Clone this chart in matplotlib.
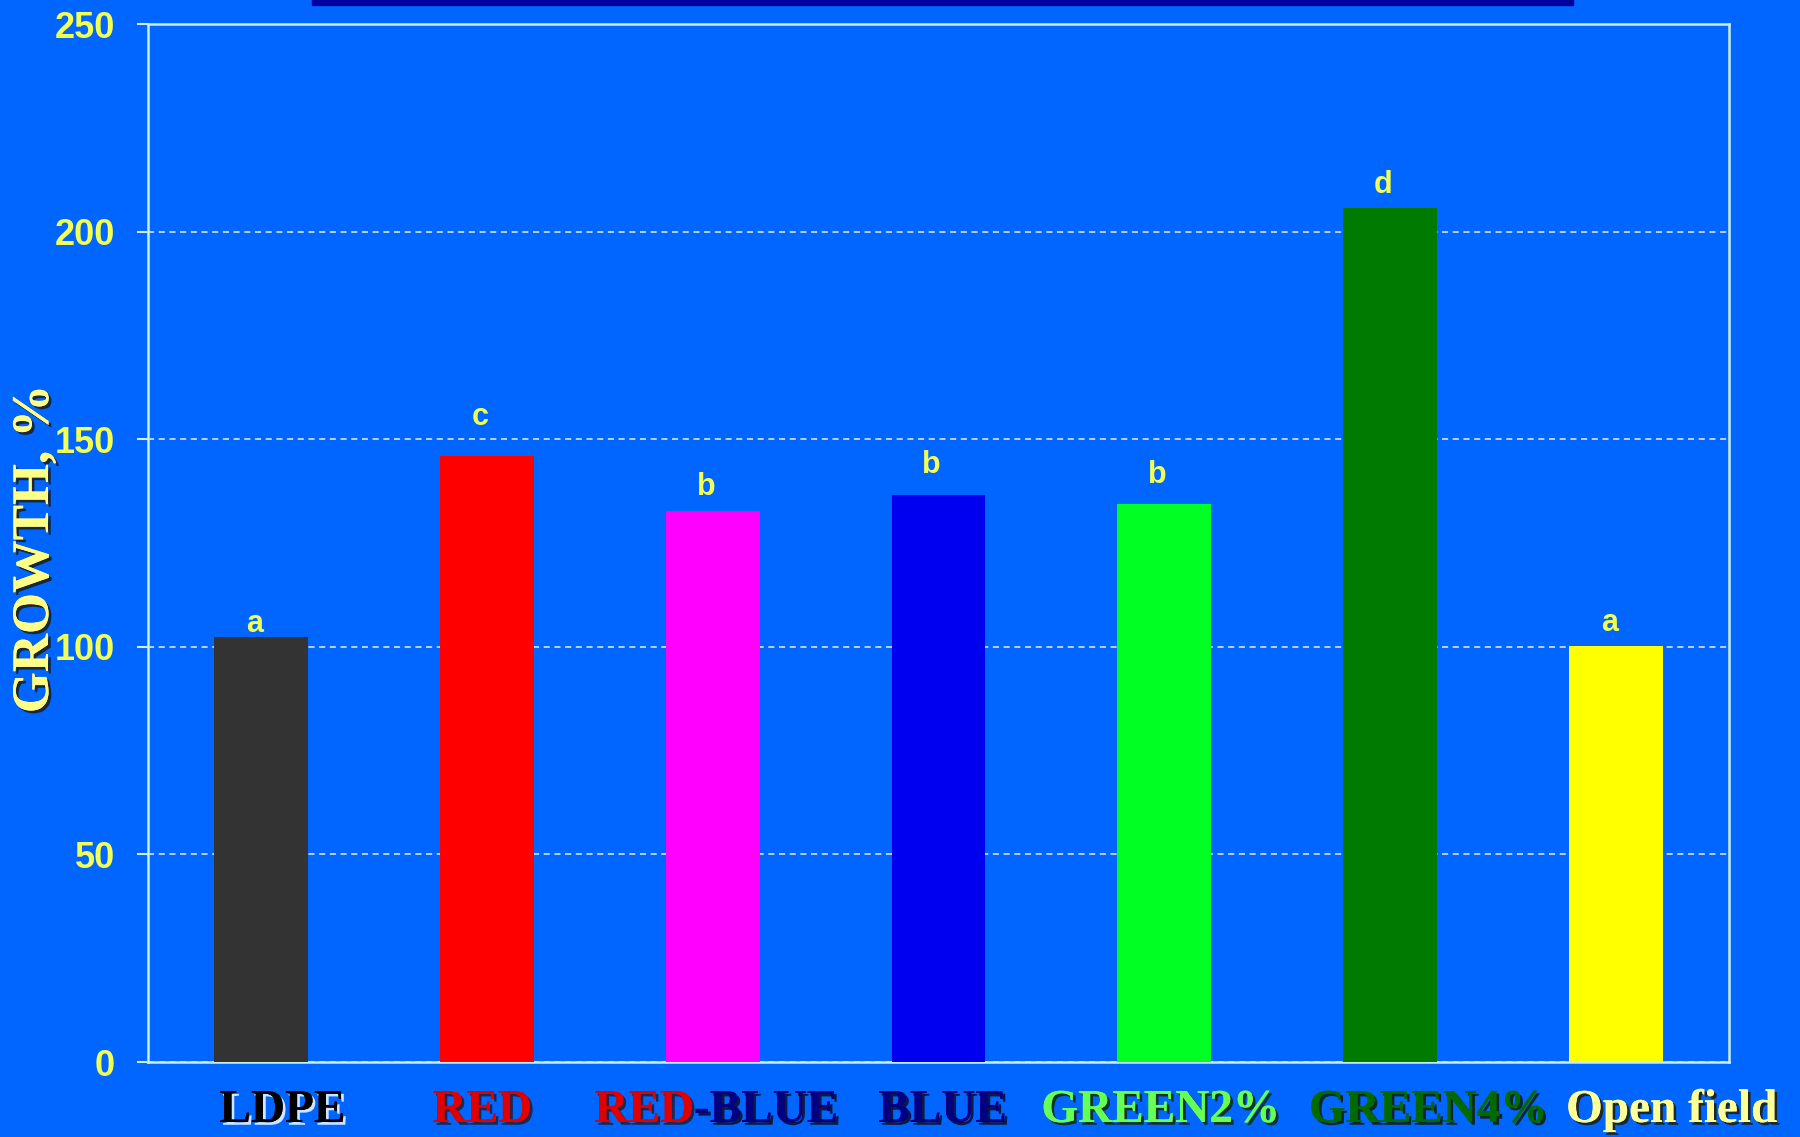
import matplotlib
matplotlib.use("Agg")
import matplotlib.pyplot as plt
import matplotlib.patheffects as pe
from matplotlib.patches import Rectangle
from matplotlib.transforms import blended_transform_factory

# ---- data ----
categories = ["LDPE", "RED", "RED-BLUE", "BLUE", "GREEN2%", "GREEN4%", "Open field"]
growth = [102.4, 145.9, 132.6, 136.5, 134.5, 205.7, 100.3]
letters = ["a", "c", "b", "b", "b", "d", "a"]
letter_heights = [103.6, 153.4, 136.6, 141.9, 139.4, 209.3, 103.8]
yticks = [0, 50, 100, 150, 200, 250]

# ---- styles ----
bar_colors = ["#333333", "#FF0000", "#FF00FF", "#0000F0", "#00FF22", "#007A00", "#FFFF00"]
label_colors = ["#000000", "#E00000", "#000080", "#000080", "#66FF55", "#006A00", "#FFFF99"]
label_shadows = ["#E8F4FF", "#202040", "#101030", "#101030", "#103010", "#102010", "#202010"]
label_x_offsets = [0.095, -0.02, 0.016, 0.018, -0.016, 0.168, 0.246]
BG = "#0066FF"
YEL = "#F2FF55"
LINE = "#C8EEE8"

fig = plt.figure(figsize=(18, 11.37), dpi=100, facecolor=BG)
fig.patches.append(Rectangle((312 / 1800, 1 - 5 / 1137), (1573 - 312) / 1800, 6 / 1137,
                             transform=fig.transFigure, color="#0000A0", zorder=0))
ax = fig.add_axes([148 / 1800, 1 - 1062 / 1137, (1729 - 148) / 1800, (1062 - 24) / 1137])
ax.set_facecolor(BG)

x = list(range(len(categories)))
ax.bar(x, growth, width=0.415, color=bar_colors, zorder=3)

ax.set_xlim(-0.5, len(categories) - 0.5)
ax.set_ylim(0, 250)
ax.set_yticks(yticks)
ax.set_yticklabels([str(t) for t in yticks], fontsize=26, fontweight="bold",
                   family="Liberation Sans", color=YEL)
ax.tick_params(axis="y", length=8, width=1.5, color=LINE, pad=16)
ax.set_xticks([])
for s in ax.spines.values():
    s.set_color(LINE)
    s.set_linewidth(1.8)
ax.yaxis.grid(True, linestyle=(0, (4, 3)), color="#E8F0D8", linewidth=1.1, zorder=1)

for xi, h, lt in zip(x, letter_heights, letters):
    ax.text(xi - 0.03, h, lt, ha="center", va="baseline", fontsize=22,
            fontweight="bold", family="Liberation Sans", color=YEL, zorder=4)

# y-axis label
fig.text(35 / 1800, 1 - 549 / 1137, "GROWTH, %", rotation=90, ha="center", va="center",
         fontsize=38, fontweight="bold", family="Liberation Serif", color="#FFFF88",
         path_effects=[pe.withSimplePatchShadow(offset=(2, -2), shadow_rgbFace="#202020", alpha=0.9),
                       pe.Normal()])

# category labels
trans = blended_transform_factory(ax.transData, fig.transFigure)
ylab = 1 - 1111 / 1137
renderer = fig.canvas.get_renderer()


def shadow(sh):
    return [pe.withSimplePatchShadow(offset=(2, -2), shadow_rgbFace=sh, alpha=0.9), pe.Normal()]


for i, (xi, cat, col, sh, off) in enumerate(zip(x, categories, label_colors, label_shadows, label_x_offsets)):
    if "-" in cat:
        # two-coloured label: first part red, rest navy
        left, right = cat.split("-", 1)
        right = "-" + right
        probe = fig.text(0, 0, cat, fontsize=34, fontweight="bold", family="Liberation Serif")
        wfull = probe.get_window_extent(renderer=renderer).width
        probe.remove()
        probe = fig.text(0, 0, left, fontsize=34, fontweight="bold", family="Liberation Serif")
        wleft = probe.get_window_extent(renderer=renderer).width
        probe.remove()
        cx = ax.transData.transform((xi + off, 0))[0]
        x0 = (cx - wfull / 2) / fig.bbox.width
        x1 = (cx - wfull / 2 + wleft) / fig.bbox.width
        fig.text(x0, ylab, left, ha="left", va="center", fontsize=34, fontweight="bold",
                 family="Liberation Serif", color="#E00000", path_effects=shadow("#202040"))
        fig.text(x1, ylab, right, ha="left", va="center", fontsize=34, fontweight="bold",
                 family="Liberation Serif", color=col, path_effects=shadow(sh))
    else:
        ax.text(xi + off, ylab, cat, transform=trans, ha="center", va="center",
                fontsize=34, fontweight="bold", family="Liberation Serif", color=col,
                path_effects=shadow(sh), clip_on=False)

fig.savefig("out.png", dpi=100, facecolor=BG)
